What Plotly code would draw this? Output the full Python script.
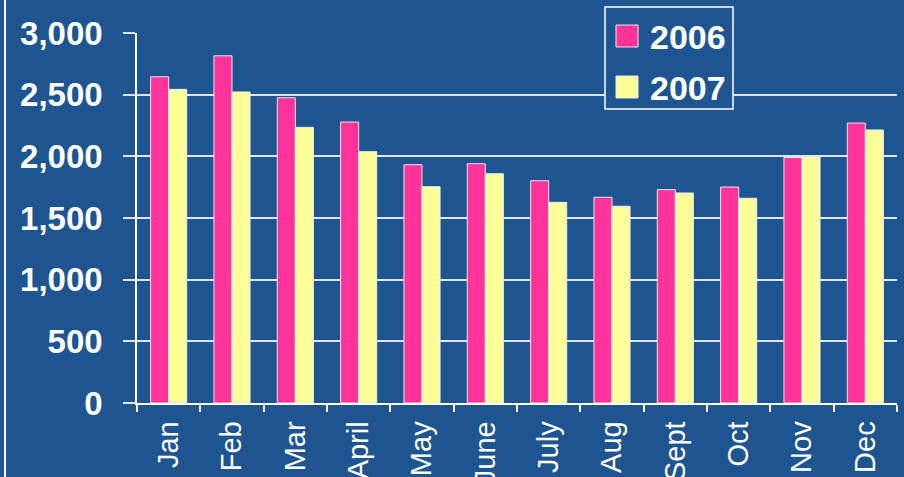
import plotly.graph_objects as go

months = ["Jan", "Feb", "Mar", "April", "May", "June", "July", "Aug", "Sept", "Oct", "Nov", "Dec"]
sales_2006 = [2645, 2815, 2475, 2278, 1932, 1940, 1802, 1668, 1730, 1751, 1990, 2270]
sales_2007 = [2543, 2522, 2235, 2038, 1754, 1859, 1627, 1595, 1703, 1660, 1995, 2214]
y_ticks = [0, 500, 1000, 1500, 2000, 2500, 3000]
y_tick_labels = ["0", "500", "1,000", "1,500", "2,000", "2,500", "3,000"]
series_names = ["2006", "2007"]
series_colors = ["#FF3399", "#FFFF99"]

BG = "#1E5590"
L, T, W, H = 137, 33, 760, 370


def px(x):
    return (x - L) / W


def py(y):
    return (T + H - y) / H


fig = go.Figure()
for name, vals, col in zip(series_names, [sales_2006, sales_2007], series_colors):
    fig.add_trace(go.Bar(x=months, y=vals, name=name,
                         marker=dict(color=col, line=dict(color="#E8E8F0", width=1))))

shapes = [
    dict(type="line", xref="paper", yref="paper", x0=px(5), x1=px(5), y0=py(-10), y1=py(490),
         line=dict(color="white", width=2)),
    dict(type="rect", xref="paper", yref="paper", x0=px(605), x1=px(733), y0=py(7), y1=py(109),
         fillcolor=BG, line=dict(color="white", width=1.5), layer="above"),
]
annotations = []
for i, (name, col) in enumerate(zip(series_names, series_colors)):
    top = 25 + i * 51
    shapes.append(dict(type="rect", xref="paper", yref="paper", x0=px(616), x1=px(638),
                       y0=py(top), y1=py(top + 22), fillcolor=col,
                       line=dict(color="#E8E8F0", width=1), layer="above"))
    annotations.append(dict(xref="paper", yref="paper", x=px(648), y=py(top + 12),
                            xanchor="left", yanchor="middle", text="<b>%s</b>" % name,
                            showarrow=False,
                            font=dict(size=34, color="white",
                                      family="Liberation Sans, Arial, sans-serif")))

fig.update_layout(
    width=904, height=477,
    margin=dict(l=L, r=904 - L - W, t=T, b=477 - T - H, autoexpand=False),
    paper_bgcolor=BG,
    plot_bgcolor=BG,
    barmode="group",
    bargap=0.43,
    bargroupgap=0,
    font=dict(family="Liberation Sans, Arial, sans-serif", color="white"),
    showlegend=False,
    shapes=shapes,
    annotations=annotations,
)

fig.update_yaxes(
    range=[0, 3000], tickvals=y_ticks, ticktext=y_tick_labels,
    showgrid=True, gridcolor="#E0E4F0", gridwidth=1.5,
    showline=True, linecolor="white", linewidth=1.5,
    ticks="outside", ticklen=12, tickcolor="#E0E4F0", tickwidth=1.5,
    ticklabelstandoff=14,
    tickfont=dict(size=33, color="white", weight="bold"),
    zeroline=False,
)
fig.update_xaxes(
    tickangle=-90,
    showline=True, linecolor="white", linewidth=1.5,
    ticks="outside", ticklen=7, tickcolor="white", tickwidth=1.5,
    tickson="boundaries",
    ticklabelstandoff=5,
    tickfont=dict(size=29, color="white"),
)

fig.write_html("out.html", post_script="document.body.style.margin='0';",
               config={"displayModeBar": False})
